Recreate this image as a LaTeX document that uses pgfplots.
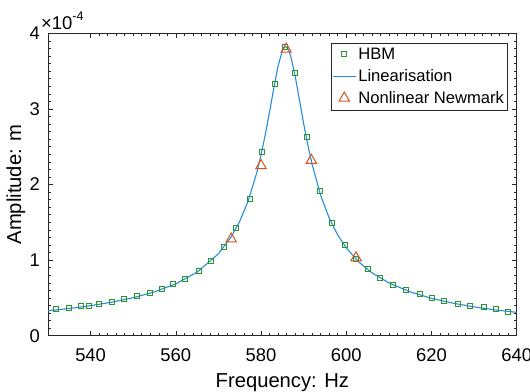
\documentclass[border=0pt]{standalone}
\usepackage{fontspec}
\setmainfont{Liberation Sans}
\usepackage{pgfplots}
\pgfplotsset{compat=1.18}
\definecolor{hbm}{RGB}{40,150,40}
\definecolor{lin}{RGB}{40,140,215}
\definecolor{nlm}{RGB}{217,83,25}
\definecolor{axc}{RGB}{38,38,38}
\pgfplotsset{
  legmark/.style={legend image code/.code={\draw[mark repeat=2,mark phase=2,##1] plot coordinates {(0bp,0bp) (11.5bp,0bp) (23bp,0bp)};}},
  legline/.style={legend image code/.code={\draw[##1] (0bp,0bp) -- (23bp,0bp);}},
}
\begin{document}
\begin{tikzpicture}
\useasboundingbox (0,0) rectangle (530bp,392bp);
\begin{axis}[
  at={(48bp,56.3bp)}, anchor=south west,
  scale only axis, width=468.7bp, height=302.4bp,
  xmin=530, xmax=640, ymin=0, ymax=4e-4,
  xtick={540,560,580,600,620,640},
  ytick={0,1e-4,2e-4,3e-4,4e-4},
  minor x tick num=9, minor y tick num=9,
  tick align=inside, xtick pos=both, ytick pos=both,
  major tick length=5bp, minor tick length=2.6bp,
  axis line style={axc, line width=0.6bp},
  every tick/.style={axc, line width=0.5bp},
  scaled y ticks=base 10:4,
  ytick scale label code/.code={\fontsize{18.4bp}{20bp}\selectfont ×10\raisebox{8.3bp}{\fontsize{12.5bp}{14bp}\selectfont -4}},
  every y tick scale label/.style={at={(rel axis cs:0,1)}, anchor=base west, inner sep=0pt, yshift=4bp, xshift=1bp},
  /pgf/number format/assume math mode=true,
  tick label style={font=\fontsize{18.4bp}{20bp}\selectfont, inner sep=0pt},
  xticklabel style={anchor=base, yshift=-26bp},
  yticklabel style={anchor=east, xshift=-8bp},
  xlabel={Frequency: Hz}, ylabel={Amplitude: m},
  label style={font=\fontsize{20.2bp}{22bp}\selectfont, inner sep=0pt},
  xlabel style={at={(rel axis cs:0.5,0)}, anchor=base, yshift=-52bp},
  ylabel style={at={(rel axis cs:0,0.5)}, anchor=center, yshift=32bp},
  legend style={at={(rel axis cs:0.98,0.969)}, anchor=north east, draw=axc, line width=0.5bp,
    font=\fontsize{16.6bp}{19bp}\selectfont, inner xsep=1bp, inner ysep=3bp, row sep=4.5bp},
  legend cell align=left,
]
\addplot[only marks, mark=square, mark size=2.5bp, mark options={draw=hbm, line width=0.8bp, fill=none}, legmark]
coordinates {
(531.8,0.353e-4) (534.9,0.370e-4) (537.8,0.390e-4) (539.7,0.400e-4) (542.0,0.420e-4)
(545.0,0.446e-4) (547.9,0.486e-4) (550.8,0.520e-4) (553.8,0.565e-4) (556.8,0.620e-4)
(559.3,0.680e-4) (562.2,0.755e-4) (565.3,0.856e-4) (568.2,0.990e-4) (571.3,1.170e-4)
(574.2,1.425e-4) (577.3,1.810e-4) (580.2,2.430e-4) (583.2,3.330e-4) (585.7,3.820e-4)
(588.0,3.470e-4) (590.7,2.630e-4) (593.8,1.920e-4) (596.7,1.487e-4) (599.7,1.200e-4)
(602.3,1.020e-4) (605.1,0.880e-4) (608.0,0.770e-4) (611.0,0.675e-4) (614.1,0.605e-4)
(617.2,0.548e-4) (620.1,0.503e-4) (622.9,0.463e-4) (626.2,0.423e-4) (629.1,0.400e-4)
(632.2,0.375e-4) (635.1,0.350e-4) (638.0,0.320e-4)
};
\addlegendentry{HBM}
\addplot[lin, line width=1.1bp, mark=none, legline]
coordinates {
(530,0.3297e-4) (535,0.3603e-4) (540,0.3975e-4) (545,0.4437e-4) (550,0.5025e-4)
(555,0.5798e-4) (560,0.6862e-4) (565,0.8406e-4) (570,1.0838e-4) (573,1.308e-4)
(575,1.513e-4) (577,1.786e-4) (579,2.157e-4) (580,2.391e-4) (581,2.661e-4)
(582,2.960e-4) (583,3.278e-4) (584,3.569e-4) (585,3.769e-4) (585.4,3.811e-4)
(585.8,3.822e-4) (586,3.817e-4) (586.5,3.774e-4) (587,3.690e-4) (588,3.436e-4)
(589,3.123e-4) (590,2.806e-4) (591,2.515e-4) (592,2.262e-4) (594,1.853e-4)
(596,1.555e-4) (598,1.332e-4) (600,1.162e-4) (603,0.972e-4) (606,0.833e-4)
(610,0.6985e-4) (615,0.5797e-4) (620,0.4946e-4) (625,0.4306e-4) (630,0.381e-4)
(635,0.3412e-4) (640,0.3087e-4)
};
\addlegendentry{Linearisation}
\addplot[only marks, mark=triangle, mark size=6bp, mark options={draw=nlm, line width=1bp, fill=none}, legmark]
coordinates {
(573.0,1.28e-4) (580.0,2.25e-4) (585.9,3.79e-4) (591.8,2.32e-4) (602.3,1.03e-4)
};
\addlegendentry{Nonlinear Newmark}
\end{axis}
\end{tikzpicture}
\end{document}
